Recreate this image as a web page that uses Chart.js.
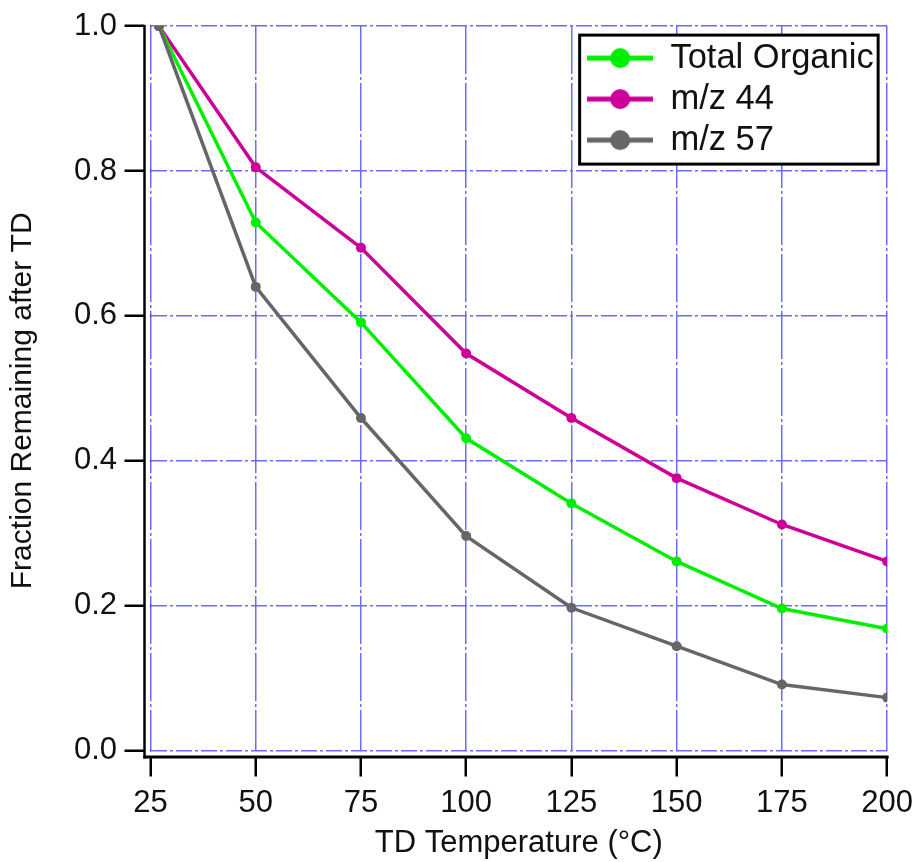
<!DOCTYPE html>
<html>
<head>
<meta charset="utf-8">
<script src="https://cdn.jsdelivr.net/npm/chart.js@4/dist/chart.umd.min.js"></script>
<style>
  html, body { margin: 0; padding: 0; background: #fff; }
  #wrap { width: 921px; height: 862px; }
</style>
</head>
<body>
<div id="wrap"><canvas id="chart" width="921" height="862"></canvas></div>
<script>
// values
const temps = [27, 50, 75, 100, 125, 150, 175, 200];
const totalOrganic = [1.0, 0.729, 0.591, 0.431, 0.341, 0.261, 0.196, 0.168];
const mz44 = [1.0, 0.805, 0.694, 0.548, 0.459, 0.376, 0.312, 0.261];
const mz57 = [1.0, 0.640, 0.459, 0.296, 0.197, 0.144, 0.091, 0.073];
const seriesNames = ['Total Organic', 'm/z 44', 'm/z 57'];
const seriesColors = ['#00ee00', '#cc0099', '#666666'];
const xTicks = [25, 50, 75, 100, 125, 150, 175, 200];
const yTicks = [0.0, 0.2, 0.4, 0.6, 0.8, 1.0];

const FONT = '"Liberation Sans", Arial, Helvetica, sans-serif';
const gridBlue = '#6b6bff';

const toPoints = (ys) => temps.map((t, i) => ({ x: t, y: ys[i] }));

// legend symbol: line with a dot in the middle
const makeSymbol = (color) => {
  const c = document.createElement('canvas');
  c.width = 66;
  c.height = 24;
  const g = c.getContext('2d');
  g.strokeStyle = color;
  g.lineWidth = 5;
  g.beginPath();
  g.moveTo(0, 12);
  g.lineTo(66, 12);
  g.stroke();
  g.fillStyle = color;
  g.beginPath();
  g.arc(33, 12, 10, 0, Math.PI * 2);
  g.fill();
  return c;
};
const symbols = seriesColors.map(makeSymbol);

const makeDataset = (i, ys, order) => ({
  label: seriesNames[i],
  data: toPoints(ys),
  borderColor: seriesColors[i],
  backgroundColor: seriesColors[i],
  borderWidth: 3.5,
  pointRadius: 5,
  pointBorderWidth: 0,
  pointHoverRadius: 5,
  showLine: true,
  tension: 0,
  order,
});

// legend moved into the top-right corner, with white fill and black frame
const legendBox = {
  id: 'legendBox',
  afterLayout(chart) {
    const lg = chart.legend;
    const ca = chart.chartArea;
    lg.left = ca.right - 306.5;
    lg.top = ca.top + 8.25;
    lg.width = 300;
    lg.height = 140;
    lg.right = lg.left + lg.width;
    lg.bottom = lg.top + lg.height;
  },
  afterDatasetsDraw(chart) {
    const lg = chart.legend;
    const { ctx, chartArea: ca } = chart;
    const fx = ca.right - 307.5;
    const fy = ca.top + 9;
    ctx.save();
    ctx.fillStyle = '#fff';
    ctx.fillRect(fx, fy, 298.5, 129);
    ctx.strokeStyle = '#000';
    ctx.lineWidth = 3;
    ctx.strokeRect(fx, fy, 298.5, 129);
    ctx.restore();
    // the legend layer is drawn under the datasets; draw it again over the frame
    lg.draw(chart.chartArea);
  },
};

// black axis lines sit a few pixels outside the grid box
const offsetAxes = {
  id: 'offsetAxes',
  afterDraw(chart) {
    const { ctx, chartArea: ca } = chart;
    ctx.save();
    ctx.strokeStyle = '#000';
    ctx.lineWidth = 2.5;
    ctx.beginPath();
    ctx.moveTo(ca.left - 6, ca.top - 1);
    ctx.lineTo(ca.left - 6, ca.bottom + 8);
    ctx.stroke();
    ctx.lineWidth = 3;
    ctx.beginPath();
    ctx.moveTo(ca.left - 7, ca.bottom + 6.5);
    ctx.lineTo(ca.right + 1.5, ca.bottom + 6.5);
    ctx.stroke();
    ctx.restore();
  },
};

new Chart(document.getElementById('chart').getContext('2d'), {
  type: 'scatter',
  data: {
    datasets: [
      makeDataset(0, totalOrganic, 1),
      makeDataset(1, mz44, 2),
      makeDataset(2, mz57, 0),
    ],
  },
  options: {
    responsive: false,
    animation: false,
    events: [],
    layout: { padding: { left: 0, top: 23, right: 29, bottom: 0 } },
    scales: {
      x: {
        type: 'linear',
        min: 25,
        max: 200,
        afterFit: (s) => { s.height = 111.5; },
        afterBuildTicks: (s) => { s.ticks = xTicks.map((v) => ({ value: v })); },
        ticks: {
          padding: 8,
          color: '#111',
          font: { family: FONT, size: 31 },
          callback: (v) => String(v),
        },
        grid: {
          color: gridBlue,
          lineWidth: 1.5,
          tickLength: 26,
          tickColor: '#000',
          tickWidth: 2.5,
          tickBorderDash: [19.5, 6.5],
          tickBorderDashOffset: 19.5,
        },
        border: { display: false, dash: [48, 3, 3, 3] },
        title: {
          display: true,
          text: 'TD Temperature (°C)',
          color: '#111',
          font: { family: FONT, size: 31 },
          padding: { top: 0, bottom: 0 },
        },
      },
      y: {
        min: 0,
        max: 1,
        afterFit: (s) => { s.width = 150.5; },
        afterBuildTicks: (s) => { s.ticks = yTicks.map((v) => ({ value: v })); },
        ticks: {
          padding: 7.5,
          color: '#111',
          font: { family: FONT, size: 31 },
          callback: (v) => Number(v).toFixed(1),
        },
        grid: {
          color: gridBlue,
          lineWidth: 1.5,
          tickLength: 26,
          tickColor: '#000',
          tickWidth: 2.5,
          tickBorderDash: [20, 6],
        },
        border: { display: false, dash: [16, 3, 3, 3] },
        title: {
          display: true,
          text: 'Fraction Remaining after TD   ',
          color: '#111',
          font: { family: FONT, size: 30 },
          padding: { top: 4.5, bottom: 0 },
        },
      },
    },
    plugins: {
      tooltip: { enabled: false },
      legend: {
        position: 'chartArea',
        align: 'start',
        labels: {
          usePointStyle: true,
          pointStyleWidth: 66,
          padding: 6.5,
          color: '#111',
          font: { family: FONT, size: 34.5 },
          sort: (a, b) => a.datasetIndex - b.datasetIndex,
          generateLabels: (chart) => {
            const items = Chart.defaults.plugins.legend.labels.generateLabels(chart);
            return items.map((it) => ({ ...it, pointStyle: symbols[it.datasetIndex] }));
          },
        },
      },
    },
  },
  plugins: [legendBox, offsetAxes],
});
</script>
</body>
</html>
